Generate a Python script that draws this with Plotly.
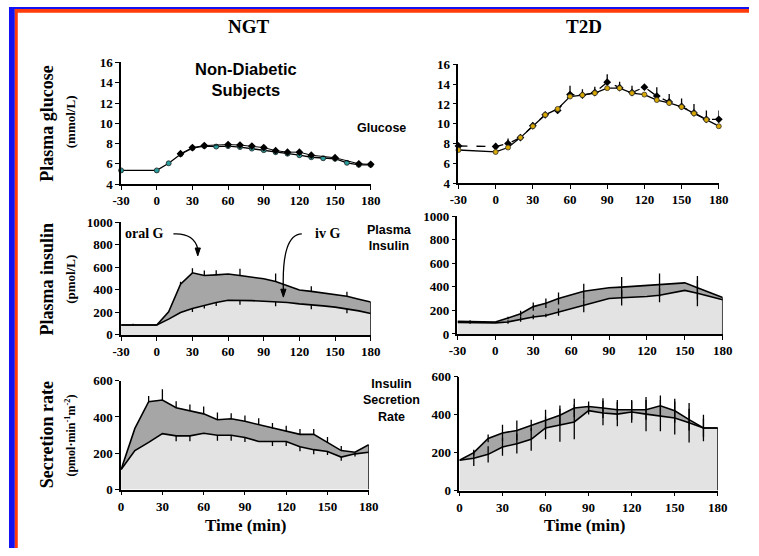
import plotly.graph_objects as go

# ---------------- data ----------------
t_glu = [-30, 0, 10, 20, 30, 40, 50, 60, 70, 80, 90, 100, 110, 120, 130, 140, 150, 160, 170, 180]
glu_ngt_iv = [5.35, 5.35, 6.05, 6.95, 7.55, 7.75, 7.7, 7.75, 7.65, 7.5, 7.35, 7.15, 7.0, 6.85, 6.65, 6.55, 6.5, 6.1, 5.9, 5.9]
glu_ngt_oral = [None, None, None, 7.0, 7.6, 7.8, None, 7.9, 7.85, 7.75, 7.6, 7.3, 7.15, 7.15, 6.85, None, 6.6, None, 6.0, 5.95]
glu_ngt_oral_err = [0, 0, 0, 0.15, 0.2, 0.2, 0, 0.2, 0.25, 0.3, 0.25, 0.2, 0.2, 0.25, 0.2, 0, 0.15, 0, 0.1, 0.1]
glu_t2d_iv = [7.35, 7.15, 7.6, 8.6, 9.75, 10.9, 11.5, 12.75, 12.9, 13.1, 13.6, 13.6, 13.1, 12.95, 12.4, 12.1, 11.7, 11.05, 10.4, 9.75]
glu_t2d_oral = [7.75, 7.7, 8.0, 8.6, 9.8, 10.9, 11.35, 12.95, 12.9, 13.15, 14.2, 13.65, 13.15, 13.7, 12.8, 12.2, 11.75, 11.1, 10.45, 10.45]
glu_t2d_oral_err = [0.2, 0.35, 0.5, 0.3, 0.3, 0.2, 0.3, 0.9, 0.6, 0.6, 0.8, 0.6, 0.7, 0, 0.9, 0.8, 0.8, 0.9, 0.9, 0.9]

t_ins = [-30, -20, 0, 10, 20, 30, 40, 50, 60, 70, 80, 90, 100, 110, 120, 130, 140, 150, 160, 170, 180]
ins_ngt_oral = [88, 88, 88, 205, 450, 550, 526, 532, 540, 526, 512, 497, 474, 433, 398, 386, 371, 357, 342, 316, 292]
ins_ngt_iv = [88, 88, 88, 140, 199, 234, 263, 287, 307, 307, 304, 298, 295, 287, 275, 263, 257, 246, 231, 213, 190]
ins_ngt_oral_err = [0, 10, 0, 0, 20, 40, 45, 40, 0, 60, 0, 0, 70, 0, 0, 45, 0, 0, 40, 0, 0]
ins_ngt_iv_err = [0, 0, 0, 0, 0, 30, 30, 30, 0, 40, 0, 0, 40, 0, 0, 35, 0, 0, 40, 0, 0]
ins_t2d_oral = [108, 107, 102, 135, 171, 232, 260, 301, 331, 362, 378, 392, 398, 405, 412, 414, 424, 434, 392, 350, 309]
ins_t2d_iv = [97, 97, 94, 102, 124, 144, 157, 185, 213, 240, 273, 301, 307, 312, 318, 329, 351, 370, 345, 318, 290]
ins_t2d_oral_err = [0, 10, 0, 10, 25, 35, 40, 50, 0, 65, 0, 0, 85, 0, 0, 100, 0, 0, 100, 0, 0]
ins_t2d_iv_err = [0, 10, 0, 15, 20, 20, 15, 30, 0, 55, 0, 0, 65, 0, 0, 60, 0, 0, 110, 0, 0]

t_sec = [0, 10, 20, 30, 40, 50, 60, 70, 80, 90, 100, 110, 120, 130, 140, 150, 160, 170, 180]
sec_ngt_oral = [111, 337, 484, 493, 451, 433, 417, 385, 390, 376, 358, 337, 322, 304, 304, 260, 215, 206, 247]
sec_ngt_iv = [111, 215, 260, 308, 296, 296, 310, 299, 299, 287, 265, 265, 265, 236, 220, 210, 179, 197, 206]
sec_ngt_oral_err = [0, 0, 32, 60, 36, 36, 40, 40, 30, 32, 35, 30, 30, 30, 30, 30, 25, 0, 0]
sec_ngt_iv_err = [0, 0, 0, 0, 30, 30, 0, 30, 30, 25, 0, 25, 25, 25, 25, 20, 20, 15, 0]
sec_t2d_oral = [160, 200, 275, 304, 317, 344, 374, 397, 435, 443, 435, 426, 426, 426, 447, 421, 374, 330, 330]
sec_t2d_iv = [160, 170, 191, 230, 247, 270, 330, 344, 362, 421, 409, 403, 414, 403, 395, 383, 357, 330, 330]
sec_t2d_oral_err = [0, 15, 20, 43, 52, 30, 52, 52, 49, 26, 52, 52, 52, 52, 54, 63, 57, 47, 0]
sec_t2d_iv_err = [0, 40, 43, 47, 52, 60, 60, 87, 92, 20, 64, 64, 57, 90, 82, 87, 104, 70, 0]

ticks_long = [-30, 0, 30, 60, 90, 120, 150, 180]
ticks_short = [0, 30, 60, 90, 120, 150, 180]

# ---------------- styling ----------------
W, H = 759, 556
SERIF = "Liberation Serif"
SANS = "Liberation Sans"
LIGHT = "#e3e3e3"
DARK = "#a6a6a6"
BLUE = "#1414f0"
RED = "#ff3c0a"

# pixel -> paper fraction
def fx(p):
    return p / W

def fy(p):
    return 1 - p / H

# panel frames in pixels: (x_left, x_right, y_bottom, y_top)
frames = {
    1: (115, 371, 182, 57),
    2: (461, 728, 181, 59),
    3: (115, 371, 337, 221),
    4: (460, 732, 336, 215),
    5: (115, 369, 496, 384),
    6: (462, 727, 497, 380),
}
yranges = {1: [4, 16], 2: [4, 16], 3: [0, 1000], 4: [0, 1000], 5: [0, 600], 6: [0, 600]}
ydticks = {1: 2, 2: 2, 3: 200, 4: 200, 5: 200, 6: 200}

fig = go.Figure()


def err(plus, minus=None, sym=False):
    d = dict(type="data", array=plus, visible=True, width=0, thickness=1.3, color="black")
    if sym:
        d["symmetric"] = True
    else:
        d["symmetric"] = False
        d["arrayminus"] = minus if minus is not None else [0] * len(plus)
    return d


def band(i, t, lower, upper, lower_err, upper_err, sym):
    xa, ya = ("x" if i == 1 else f"x{i}"), ("y" if i == 1 else f"y{i}")
    zeros = [0] * len(t)
    fig.add_trace(go.Scatter(
        x=t, y=lower, mode="lines", fill="tozeroy", fillcolor=LIGHT,
        line=dict(color="black", width=1.6), xaxis=xa, yaxis=ya, showlegend=False,
        error_y=err(lower_err, sym=True) if sym else err(zeros, lower_err),
        cliponaxis=False))
    fig.add_trace(go.Scatter(
        x=t, y=upper, mode="lines", fill="tonexty", fillcolor=DARK,
        line=dict(color="black", width=1.6), xaxis=xa, yaxis=ya, showlegend=False,
        error_y=err(upper_err, sym=True) if sym else err(upper_err, zeros),
        cliponaxis=False))
    # closing edge at the last time point
    fig.add_trace(go.Scatter(
        x=[t[-1], t[-1]], y=[0, upper[-1]], mode="lines",
        line=dict(color="black", width=1.4), xaxis=xa, yaxis=ya, showlegend=False,
        cliponaxis=False))


# glucose, NGT
fig.add_trace(go.Scatter(
    x=t_glu, y=glu_ngt_iv, mode="lines+markers",
    line=dict(color="black", width=1.3),
    marker=dict(symbol="circle", size=5, color="#2b9c9c", line=dict(color="#222", width=0.8)),
    xaxis="x", yaxis="y", showlegend=False, cliponaxis=False))
fig.add_trace(go.Scatter(
    x=t_glu, y=glu_ngt_oral, mode="lines+markers", connectgaps=True,
    line=dict(color="black", width=1.0),
    marker=dict(symbol="diamond", size=6, color="black"),
    error_y=err(glu_ngt_oral_err, [0] * len(t_glu)),
    xaxis="x", yaxis="y", showlegend=False, cliponaxis=False))

# glucose, T2D
fig.add_trace(go.Scatter(
    x=t_glu, y=glu_t2d_oral, mode="lines+markers",
    line=dict(color="black", width=1.3, dash="dash"),
    marker=dict(symbol="diamond", size=6, color="black"),
    error_y=err(glu_t2d_oral_err, [0] * len(t_glu)),
    xaxis="x2", yaxis="y2", showlegend=False, cliponaxis=False))
fig.add_trace(go.Scatter(
    x=t_glu, y=glu_t2d_iv, mode="lines+markers",
    line=dict(color="black", width=1.3),
    marker=dict(symbol="circle", size=5, color="#d8a800", line=dict(color="#333", width=0.8)),
    xaxis="x2", yaxis="y2", showlegend=False, cliponaxis=False))

# insulin and secretion bands
band(3, t_ins, ins_ngt_iv, ins_ngt_oral, ins_ngt_iv_err, ins_ngt_oral_err, False)
band(4, t_ins, ins_t2d_iv, ins_t2d_oral, ins_t2d_iv_err, ins_t2d_oral_err, True)
band(5, t_sec, sec_ngt_iv, sec_ngt_oral, sec_ngt_iv_err, sec_ngt_oral_err, False)
band(6, t_sec, sec_t2d_iv, sec_t2d_oral, sec_t2d_iv_err, sec_t2d_oral_err, True)

# ---------------- axes ----------------
tickfont = dict(family=SERIF, size=13, color="black", weight="bold")
layout_axes = {}
for i, (xl, xr, yb, yt) in frames.items():
    xk = "xaxis" if i == 1 else f"xaxis{i}"
    yk = "yaxis" if i == 1 else f"yaxis{i}"
    xticks = ticks_long if i <= 4 else ticks_short
    yticks = list(range(yranges[i][0], yranges[i][1] + 1, ydticks[i]))
    layout_axes[xk] = dict(
        domain=[fx(xl), fx(xr)], anchor="y" if i == 1 else f"y{i}",
        range=[xticks[0], xticks[-1]], tickvals=xticks, ticktext=[str(v) for v in xticks],
        showline=True, linecolor="black", linewidth=1.5, mirror=False,
        ticks="outside", ticklen=4, tickwidth=1.2, tickcolor="black",
        showgrid=False, zeroline=False, tickfont=tickfont, fixedrange=True)
    layout_axes[yk] = dict(
        domain=[fy(yb), fy(yt)], anchor="x" if i == 1 else f"x{i}",
        range=yranges[i], tickvals=yticks, ticktext=[str(v) for v in yticks],
        showline=True, linecolor="black", linewidth=1.5,
        ticks="outside", ticklen=4, tickwidth=1.2, tickcolor="black",
        showgrid=False, zeroline=False, tickfont=tickfont, fixedrange=True)

# ---------------- text ----------------
ann = []


def text(x, y, s, size, family=SERIF, bold=True, angle=0):
    ann.append(dict(
        x=fx(x), y=fy(y), xref="paper", yref="paper", text=s, showarrow=False,
        xanchor="center", yanchor="middle", textangle=angle, align="center",
        font=dict(family=family, size=size, color="black", weight="bold" if bold else "normal")))


text(246, 20, "NGT", 19)
text(590, 20, "T2D", 19)
text(243, 74, "Non-Diabetic<br>Subjects", 16.5, SANS)
text(382, 124, "Glucose", 12.5, SANS)
text(390, 237, "Plasma<br>Insulin", 12.5, SANS)
text(392, 404, "Insulin<br>Secretion<br>Rate", 12.5, SANS)
text(39, 120, "Plasma glucose", 18, angle=-90)
text(63, 118, "(mmol/L)", 13, angle=-90)
text(39, 280, "Plasma insulin", 18, angle=-90)
text(63, 280, "(pmol/L)", 13, angle=-90)
text(39, 440, "Secretion rate", 18, angle=-90)
text(63, 440, "(pmol·min<sup>-1</sup>m<sup>-2</sup>)", 12, angle=-90)
text(243, 533, "Time (min)", 17)
text(590, 533, "Time (min)", 17)
text(139, 233, "oral G", 14)
text(327, 233, "iv G", 14)

shapes = [
    # curved pointers for the two insulin curves, with filled heads
    dict(type="path", xref="x3", yref="y3", path="M 14,895 Q 31,905 34.5,765",
         line=dict(color="black", width=1.3)),
    dict(type="path", xref="x3", yref="y3", path="M 32.3,770 L 36.7,770 L 34.5,700 Z",
         fillcolor="black", line=dict(color="black", width=1)),
    dict(type="path", xref="x3", yref="y3", path="M 122,895 Q 105,890 106.5,400",
         line=dict(color="black", width=1.3)),
    dict(type="path", xref="x3", yref="y3", path="M 104.3,405 L 108.7,405 L 106.5,335 Z",
         fillcolor="black", line=dict(color="black", width=1)),
    # frame stripes along the top and left edges
    dict(type="rect", xref="paper", yref="paper", x0=0, x1=fx(6), y0=0, y1=1,
         fillcolor=BLUE, line=dict(width=0), layer="above"),
    dict(type="rect", xref="paper", yref="paper", x0=0, x1=1, y0=fy(2), y1=1,
         fillcolor=BLUE, line=dict(width=0), layer="above"),
    dict(type="rect", xref="paper", yref="paper", x0=fx(6), x1=fx(9), y0=0, y1=fy(2),
         fillcolor=RED, line=dict(width=0), layer="above"),
    dict(type="rect", xref="paper", yref="paper", x0=fx(6), x1=1, y0=fy(6), y1=fy(2),
         fillcolor=RED, line=dict(width=0), layer="above"),
]

fig.update_layout(
    width=W, height=H, margin=dict(l=0, r=0, t=0, b=0),
    paper_bgcolor="white", plot_bgcolor="white",
    showlegend=False, annotations=ann, shapes=shapes, **layout_axes)

fig.write_html("out.html", config={"displayModeBar": False})
